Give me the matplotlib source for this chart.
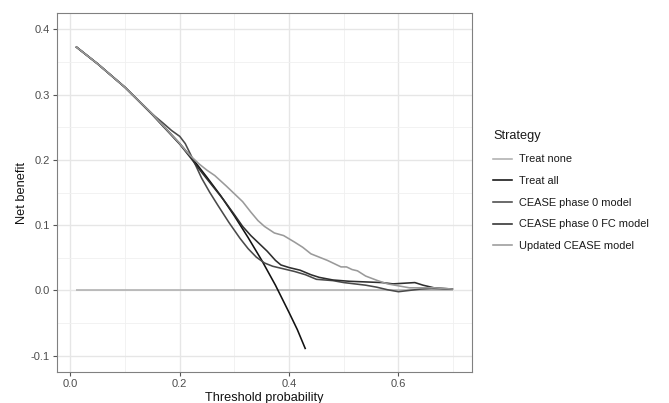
import matplotlib
matplotlib.use("Agg")
import matplotlib.pyplot as plt
from matplotlib.lines import Line2D

plt.rcParams['font.family'] = ['Liberation Sans', 'DejaVu Sans']

# ---- data ----
thr_none = [0.01, 0.70]
nb_none = [0.0, 0.0]

thr_all = [0.01, 0.05, 0.10, 0.15, 0.20, 0.225, 0.25, 0.275, 0.30, 0.325, 0.35, 0.375, 0.40, 0.415, 0.43]
nb_all = [0.3735, 0.347, 0.311, 0.270, 0.225, 0.200, 0.173, 0.145, 0.114, 0.081, 0.046, 0.008, -0.034, -0.060, -0.090]

thr_m0 = [0.01, 0.05, 0.10, 0.15, 0.17, 0.185, 0.20, 0.21, 0.22, 0.23, 0.24, 0.255, 0.27, 0.29,
          0.31, 0.325, 0.34, 0.355, 0.37, 0.39, 0.41, 0.43, 0.45, 0.48, 0.50, 0.52, 0.54, 0.56,
          0.58, 0.60, 0.62, 0.64, 0.66, 0.70]
nb_m0 = [0.3735, 0.347, 0.311, 0.270, 0.256, 0.245, 0.236, 0.225, 0.208, 0.190, 0.172, 0.150, 0.130, 0.104,
         0.080, 0.064, 0.051, 0.042, 0.037, 0.033, 0.029, 0.024, 0.017, 0.015, 0.012, 0.010, 0.008, 0.005,
         0.001, -0.002, 0.000, 0.002, 0.003, 0.002]

thr_fc = [0.01, 0.05, 0.10, 0.15, 0.20, 0.22, 0.24, 0.26, 0.28, 0.30, 0.315, 0.33, 0.345, 0.36,
          0.375, 0.385, 0.40, 0.42, 0.44, 0.455, 0.48, 0.51, 0.54, 0.57, 0.59, 0.61, 0.63, 0.645,
          0.665, 0.70]
nb_fc = [0.3735, 0.347, 0.311, 0.269, 0.224, 0.203, 0.181, 0.160, 0.139, 0.116, 0.098, 0.084, 0.072, 0.060,
         0.046, 0.039, 0.035, 0.031, 0.024, 0.020, 0.016, 0.014, 0.013, 0.012, 0.010, 0.011, 0.012, 0.008,
         0.004, 0.002]

thr_upd = [0.01, 0.05, 0.10, 0.15, 0.19, 0.20, 0.21, 0.22, 0.235, 0.25, 0.264, 0.285, 0.30, 0.315,
           0.33, 0.343, 0.355, 0.373, 0.39, 0.41, 0.425, 0.44, 0.455, 0.47, 0.485, 0.495, 0.505,
           0.515, 0.525, 0.54, 0.562, 0.58, 0.60, 0.62, 0.64, 0.665, 0.70]
nb_upd = [0.3735, 0.347, 0.311, 0.270, 0.234, 0.225, 0.215, 0.206, 0.194, 0.184, 0.176, 0.160, 0.148, 0.136,
          0.120, 0.107, 0.098, 0.088, 0.084, 0.074, 0.066, 0.056, 0.051, 0.046, 0.040, 0.036, 0.036,
          0.032, 0.030, 0.022, 0.015, 0.010, 0.007, 0.004, 0.004, 0.004, 0.002]

labels = ["Treat none", "Treat all", "CEASE phase 0 model", "CEASE phase 0 FC model", "Updated CEASE model"]
colors = ["#b0b0b0", "#111111", "#4a4a4a", "#2e2e2e", "#9a9a9a"]

x_ticks = [0.0, 0.2, 0.4, 0.6]
y_ticks = [-0.1, 0.0, 0.1, 0.2, 0.3, 0.4]

# ---- figure ----
W, H = 669, 403
fig = plt.figure(figsize=(W / 100, H / 100), dpi=100)
ax = fig.add_axes([57 / W, 1 - 372 / H, (472 - 57) / W, (372 - 13) / H])

series = [(thr_none, nb_none), (thr_all, nb_all), (thr_m0, nb_m0), (thr_fc, nb_fc), (thr_upd, nb_upd)]
order = [0, 4, 3, 2, 1]
for i in order:
    xs, ys = series[i]
    ax.plot(xs, ys, color=colors[i], lw=1.15, solid_capstyle='butt', zorder=3 + i * 0.1)

ax.set_xlim(-0.0245, 0.7345)
ax.set_ylim(-0.125, 0.425)
ax.set_xticks(x_ticks)
ax.set_xticklabels([f"{v:.1f}" for v in x_ticks])
ax.set_yticks(y_ticks)
ax.set_yticklabels([f"{v:.1f}" for v in y_ticks])
ax.set_xticks([0.1, 0.3, 0.5, 0.7], minor=True)
ax.set_yticks([-0.05, 0.05, 0.15, 0.25, 0.35], minor=True)
ax.grid(which='major', color='#e6e6e6', lw=1.0, zorder=0)
ax.grid(which='minor', color='#f0f0f0', lw=0.6, zorder=0)
ax.tick_params(which='minor', length=0)
ax.tick_params(which='major', length=3, width=0.8, color='#555555',
               labelsize=8, labelcolor='#4d4d4d', pad=2)
for s in ax.spines.values():
    s.set_color('#808080')
    s.set_linewidth(0.8)
ax.set_axisbelow(True)

ax.set_xlabel("Threshold probability", fontsize=9.2, color='#111111', labelpad=2)
ax.set_ylabel("Net benefit", fontsize=9.2, color='#111111', labelpad=2)

handles = [Line2D([0], [0], color=c, lw=1.15) for c in colors]
leg = fig.legend(handles, labels, title="Strategy", loc='upper left',
                 bbox_to_anchor=(493 / W, 1 - 130 / H), frameon=False,
                 fontsize=7.9, title_fontsize=9.2, handlelength=1.75,
                 handletextpad=0.65, labelspacing=1.06, borderaxespad=0, borderpad=0,
                 alignment='left')
leg._legend_box.sep = 9
for t in leg.get_texts():
    t.set_color('#1a1a1a')
leg.get_title().set_color('#1a1a1a')

fig.savefig("out.png", dpi=100)
